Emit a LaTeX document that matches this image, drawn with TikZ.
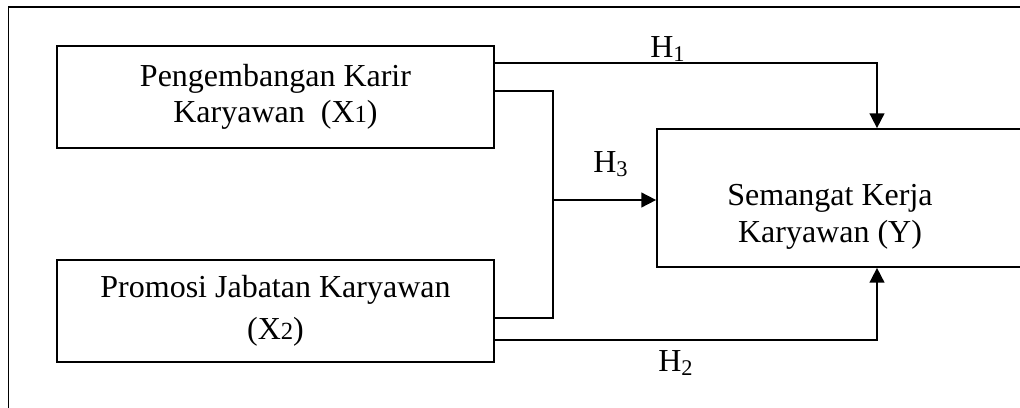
\documentclass[tikz,border=0pt]{standalone}
\usepackage{fontspec}
\setmainfont{Liberation Serif}
\usetikzlibrary{arrows.meta}
\newcommand\mainsz{\fontsize{24}{27.5}\selectfont}
\newcommand\subsz{\fontsize{18.5}{20}\selectfont}
\begin{document}
\begin{tikzpicture}[x=0.75pt,y=-0.75pt,
  box/.style={draw, line width=1.3pt, rectangle, inner sep=0pt, align=center, font=\mainsz},
  conn/.style={line width=1.3pt},
  arr/.style={conn, -{Triangle[length=11pt,width=11pt]}},
  lbl/.style={font=\mainsz, inner sep=0pt, anchor=base west}]
\useasboundingbox (0,0) rectangle (1020,407);
\clip (0,0) rectangle (1020,407);
% outer frame (right and bottom sides lie outside the picture)
\draw[line width=1.3pt] (8.5,470) |- (1090,7);
% boxes
\node[box, minimum width=327.75pt, minimum height=76.5pt] (X1) at (275.5,97)
  {Pengembangan Karir\\Karyawan~~(X{\subsz 1})};
\node[box, minimum width=327.75pt, minimum height=76.5pt] (X2) at (275.5,311)
  {\raisebox{0pt}[\height][0pt]{Promosi Jabatan Karyawan}\\[4pt](X{\subsz 2})};
\node[box, minimum width=302.25pt, minimum height=103.5pt] (Y) at (858.5,198) {};
\node[font=\mainsz, align=center, inner sep=0pt] (Ytxt) at (830,217)
  {Semangat Kerja\\Karyawan (Y)};
% connectors
\draw[arr] (X1.east |- 0,63) -| (Y.north -| 877,0);
\coordinate (J) at (553,200);
\draw[conn] (X1.east |- 0,91) -| (553,318) -- (X2.east |- 0,318);
\draw[arr] (J) -- (Y.west |- J);
\draw[arr] (X2.east |- 0,340) -| (Y.south -| 877,0);
% labels
\node[lbl] (h1) at (650,57) {H\textsubscript{1}};
\node[lbl] (h3) at (593,172) {H\textsubscript{3}};
\node[lbl] (h2) at (658,371) {H\textsubscript{2}};
\end{tikzpicture}
\end{document}
